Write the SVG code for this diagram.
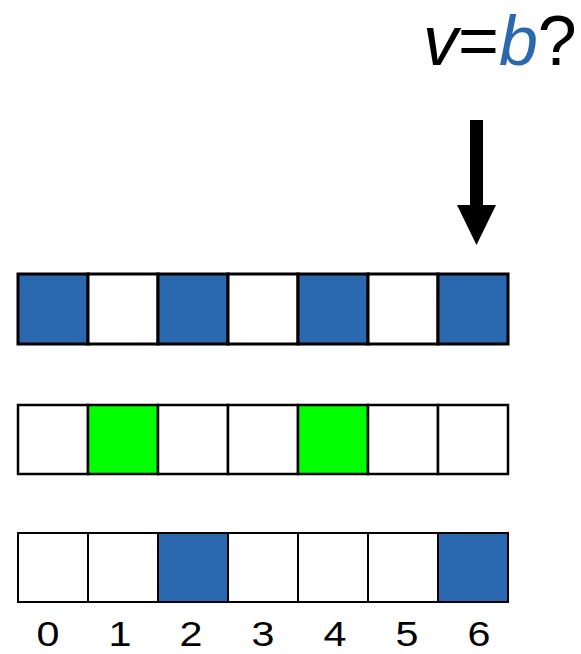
<svg xmlns="http://www.w3.org/2000/svg" width="581" height="654" viewBox="0 0 581 654">
<style>
.c{stroke:#000;stroke-width:2.5}
.w{fill:#fff}
.b{fill:#2A69AF}
.g{fill:#00FF00}
.t{font-family:"Liberation Sans",Arial,sans-serif;fill:#000}
.d{font-size:35px;text-anchor:middle}
</style>
<rect width="581" height="654" fill="#fff"/>
<g id="title">
<text class="t" x="423" y="65" font-size="70"><tspan font-style="italic">v</tspan><tspan>=</tspan><tspan font-style="italic" fill="#2A69AF">b</tspan><tspan>?</tspan></text>
</g>
<g id="connectors">
<path d="M470,120 H483 V205 H496 L476.5,245 L457,205 H470 Z" fill="#000"/>
</g>
<g id="row1">
<rect class="c b" x="18" y="274" width="70" height="70" style="stroke-width:3"/>
<rect class="c w" x="88" y="274" width="70" height="70" style="stroke-width:3"/>
<rect class="c b" x="158" y="274" width="70" height="70" style="stroke-width:3"/>
<rect class="c w" x="228" y="274" width="70" height="70" style="stroke-width:3"/>
<rect class="c b" x="298" y="274" width="70" height="70" style="stroke-width:3"/>
<rect class="c w" x="368" y="274" width="70" height="70" style="stroke-width:3"/>
<rect class="c b" x="438" y="274" width="70" height="70" style="stroke-width:3"/>
</g>
<g id="row2">
<rect class="c w" x="18" y="405" width="70" height="69"/>
<rect class="c g" x="88" y="405" width="70" height="69"/>
<rect class="c w" x="158" y="405" width="70" height="69"/>
<rect class="c w" x="228" y="405" width="70" height="69"/>
<rect class="c g" x="298" y="405" width="70" height="69"/>
<rect class="c w" x="368" y="405" width="70" height="69"/>
<rect class="c w" x="438" y="405" width="70" height="69"/>
</g>
<g id="row3">
<rect class="c w" x="18" y="533" width="70" height="69" style="stroke-width:2"/>
<rect class="c w" x="88" y="533" width="70" height="69" style="stroke-width:2"/>
<rect class="c b" x="158" y="533" width="70" height="69" style="stroke-width:2"/>
<rect class="c w" x="228" y="533" width="70" height="69" style="stroke-width:2"/>
<rect class="c w" x="298" y="533" width="70" height="69" style="stroke-width:2"/>
<rect class="c w" x="368" y="533" width="70" height="69" style="stroke-width:2"/>
<rect class="c b" x="438" y="533" width="70" height="69" style="stroke-width:2"/>
</g>
<g id="labels" class="t d">
<text transform="translate(48,646) scale(1.18,1)">0</text>
<text transform="translate(120,646) scale(1.18,1)">1</text>
<text transform="translate(191,646) scale(1.18,1)">2</text>
<text transform="translate(263,646) scale(1.18,1)">3</text>
<text transform="translate(335,646) scale(1.18,1)">4</text>
<text transform="translate(407,646) scale(1.18,1)">5</text>
<text transform="translate(479,646) scale(1.18,1)">6</text>
</g>
</svg>
